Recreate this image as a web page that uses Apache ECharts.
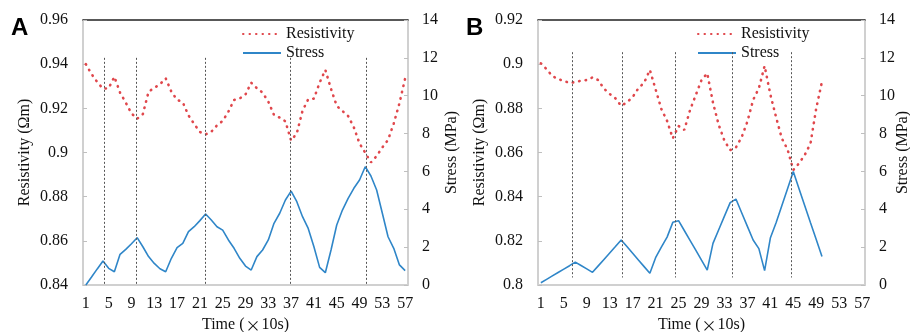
<!DOCTYPE html>
<html>
<head>
<meta charset="utf-8">
<script src="https://cdn.jsdelivr.net/npm/echarts@6/dist/echarts.min.js"></script>
<style>
  html, body { margin: 0; padding: 0; background: #fff; }
  #chart { width: 910px; height: 332px; }
</style>
</head>
<body>
<div id="chart"></div>
<script>
// time steps (x10 s)
const times = ['1','2','3','4','5','6','7','8','9','10','11','12','13','14','15','16','17','18','19','20',
  '21','22','23','24','25','26','27','28','29','30','31','32','33','34','35','36','37','38','39','40',
  '41','42','43','44','45','46','47','48','49','50','51','52','53','54','55','56','57'];

// panel A
const resistA = [0.9400, 0.9355, 0.9319, 0.9289, 0.9291, 0.9343, 0.9271, 0.9226, 0.9177, 0.9153,
  0.9174, 0.9275, 0.9293, 0.9309, 0.9336, 0.9275, 0.9239, 0.9227, 0.9168, 0.9129,
  0.9093, 0.9082, 0.9094, 0.9123, 0.9143, 0.9185, 0.9238, 0.9245, 0.9263, 0.9316,
  0.9291, 0.9271, 0.9230, 0.9170, 0.9158, 0.9141, 0.9054, 0.9087, 0.9189, 0.9241,
  0.9244, 0.9316, 0.9374, 0.9288, 0.9211, 0.9188, 0.9165, 0.9114, 0.9041, 0.8999,
  0.8955, 0.8984, 0.9023, 0.9057, 0.9132, 0.9223, 0.9336];
const stressA = [0, 0.42, 0.85, 1.27, 0.88, 0.70, 1.62, 1.88, 2.18, 2.50,
  2.02, 1.50, 1.14, 0.86, 0.70, 1.41, 1.97, 2.20, 2.82, 3.08,
  3.40, 3.75, 3.43, 3.08, 2.90, 2.38, 1.94, 1.41, 1.00, 0.79,
  1.50, 1.85, 2.38, 3.26, 3.79, 4.49, 4.96, 4.40, 3.61, 2.99,
  2.02, 0.93, 0.65, 1.85, 3.17, 3.96, 4.58, 5.11, 5.55, 6.25,
  5.76, 5.02, 3.79, 2.55, 1.94, 1.06, 0.76];
const guidesA = [4.2, 9.9, 21.9, 36.9, 50.2];   // dashed marker times
const guideSpanA = [0, 12.0];                   // in MPa

// panel B
const resistB = [0.9004, 0.8977, 0.8946, 0.8933, 0.8924, 0.8915, 0.8919, 0.8925, 0.8928, 0.8940,
  0.8928, 0.8889, 0.8865, 0.8845, 0.8811, 0.8827, 0.8851, 0.8891, 0.8916, 0.8974,
  0.8886, 0.8797, 0.8743, 0.8664, 0.8720, 0.8702, 0.8792, 0.8860, 0.8928, 0.8959,
  0.8826, 0.8725, 0.8653, 0.8611, 0.8623, 0.8669, 0.8740, 0.8838, 0.8891, 0.8992,
  0.8863, 0.8760, 0.8664, 0.8614, 0.8521, 0.8551, 0.8589, 0.8641, 0.8800, 0.8921];
const stressB = [0.12, 0.30, 0.48, 0.66, 0.84, 1.02, 1.21, 1.03, 0.85, 0.67,
  1.01, 1.35, 1.69, 2.03, 2.38, 2.03, 1.68, 1.32, 0.97, 0.62,
  1.44, 2.00, 2.53, 3.31, 3.40, 2.88, 2.36, 1.84, 1.31, 0.79,
  2.20, 2.92, 3.64, 4.35, 4.54, 3.82, 3.10, 2.38, 1.92, 0.76,
  2.48, 3.29, 4.19, 5.09, 5.99, 5.09, 4.19, 3.29, 2.40, 1.50];
const guidesB = [6.5, 15.2, 24.5, 34.4, 44.7];
const guideSpanB = [0.4, 12.3];

const SERIF = '"Liberation Serif", "Times New Roman", serif';
const RED = '#e0474c', BLUE = '#2f86c8';

const panels = [
  { letter: 'A', left: 83, width: 325, rMin: 0.84, rMax: 0.96, resist: resistA, stress: stressA, guides: guidesA, span: guideSpanA, legendLeft: 242, rightGap: 36 },
  { letter: 'B', left: 538, width: 327, rMin: 0.80, rMax: 0.92, resist: resistB, stress: stressB, guides: guidesB, span: guideSpanB, legendLeft: 697, rightGap: 30 }
];

const option = {
  animation: false,
  backgroundColor: '#fff',
  title: [], legend: [], grid: [], xAxis: [], yAxis: [], series: []
};

panels.forEach((p, k) => {
  option.title.push({
    text: p.letter, left: p.left - 77, top: 11,
    textStyle: { fontFamily: '"Liberation Sans", Arial, sans-serif', fontWeight: 'bold', fontSize: 24, color: '#000' }
  });
  // fixed plot box, labels may sit outside it
  option.grid.push({ left: p.left, top: 20, width: p.width, height: 265, outerBoundsMode: 'none', containLabel: false });
  option.legend.push({
    left: p.legendLeft, top: 26, padding: 0, orient: 'vertical',
    itemWidth: 38, itemHeight: 14, itemGap: 3,
    itemStyle: { opacity: 0 },   // line sample only, no marker
    data: ['Resistivity', 'Stress'],
    textStyle: { fontFamily: SERIF, fontSize: 16, color: '#111' }
  });
  // category time axis (bottom)
  option.xAxis.push({
    type: 'category', gridIndex: k, data: times, boundaryGap: true,
    name: 'Time ({x|×}10s)', nameLocation: 'middle', nameGap: 28,
    nameTextStyle: {
      fontFamily: SERIF, fontSize: 16, color: '#111',
      rich: { x: { fontFamily: '"Noto Sans CJK SC"', fontSize: 15, color: '#111', padding: [0, 1, 0, 1] } }
    },
    axisLine: { lineStyle: { color: '#d0d0d0', width: 2 } },
    axisTick: { interval: 4, length: 4, lineStyle: { color: '#bfbfbf' } },
    axisLabel: { interval: 3, margin: 11, fontFamily: SERIF, fontSize: 16, color: '#111' },
    splitLine: { show: false }
  });
  // value axis on top: frame line + position of the guide lines
  option.xAxis.push({
    type: 'value', gridIndex: k, position: 'top', min: 0.5, max: 57.5,
    axisLine: { show: true, lineStyle: { color: '#222', width: 1.5 } },
    axisTick: { show: false }, axisLabel: { show: false }, splitLine: { show: false }
  });
  option.yAxis.push({
    type: 'value', gridIndex: k, position: 'left', min: p.rMin, max: p.rMax, interval: 0.02,
    name: 'Resistivity (Ωm)', nameLocation: 'middle', nameGap: 50, nameMoveOverlap: false,
    nameTextStyle: { fontFamily: SERIF, fontSize: 16, color: '#111' },
    axisLine: { show: true, lineStyle: { color: '#d0d0d0', width: 2 } },
    axisTick: { show: true, inside: true, length: 4, lineStyle: { color: '#bfbfbf' } },
    axisLabel: { margin: 15, fontFamily: SERIF, fontSize: 16, color: '#111' },
    splitLine: { show: false }
  });
  option.yAxis.push({
    type: 'value', gridIndex: k, position: 'right', min: 0, max: 14, interval: 2,
    name: 'Stress (MPa)', nameLocation: 'middle', nameGap: p.rightGap, nameMoveOverlap: false,
    nameTextStyle: { fontFamily: SERIF, fontSize: 16, color: '#111' },
    axisLine: { show: true, lineStyle: { color: '#d0d0d0', width: 2 } },
    axisTick: { show: true, inside: true, length: 4, lineStyle: { color: '#bfbfbf' } },
    axisLabel: { margin: 14, fontFamily: SERIF, fontSize: 16, color: '#111' },
    splitLine: { show: false }
  });

  const xi = k * 2, yi = k * 2;
  option.series.push({
    name: 'Resistivity', type: 'line', xAxisIndex: xi, yAxisIndex: yi,
    data: p.resist, symbol: 'none',
    lineStyle: { color: RED, width: 2.6, type: [0.5, 6], cap: 'round' },
    itemStyle: { color: RED }, z: 3
  });
  option.series.push({
    name: 'Stress', type: 'line', xAxisIndex: xi, yAxisIndex: yi + 1,
    data: p.stress, symbol: 'none',
    lineStyle: { color: BLUE, width: 1.6 },
    itemStyle: { color: BLUE }, z: 2
  });
  option.series.push({
    type: 'line', xAxisIndex: xi + 1, yAxisIndex: yi + 1, data: [], silent: true,
    markLine: {
      silent: true, symbol: 'none', label: { show: false },
      lineStyle: { color: '#555', width: 1, type: [2, 2] },
      data: p.guides.map(t => [{ coord: [t, p.span[1]] }, { coord: [t, p.span[0]] }])
    }
  });
});

const chart = echarts.init(document.getElementById('chart'), null, { renderer: 'canvas' });
chart.setOption(option);
</script>
</body>
</html>
